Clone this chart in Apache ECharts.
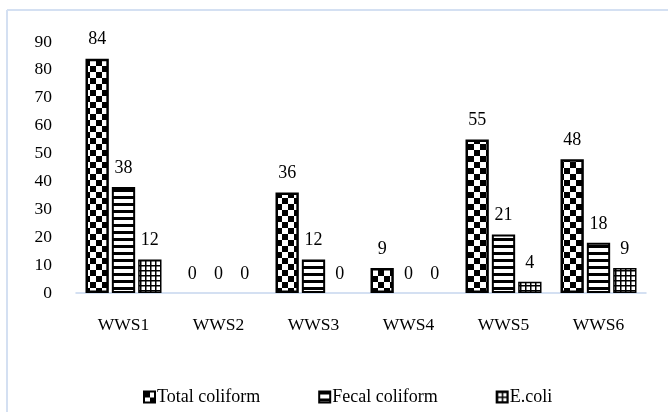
<!DOCTYPE html>
<html>
<head>
<meta charset="utf-8">
<script src="https://cdn.jsdelivr.net/npm/echarts@6/dist/echarts.min.js"></script>
<style>
html,body{margin:0;padding:0;background:#fff;}
#c{width:670px;height:412px;}
</style>
</head>
<body>
<div id="c"></div>
<script>
const categories = ['WWS1','WWS2','WWS3','WWS4','WWS5','WWS6'];
const seriesNames = ['Total coliform','Fecal coliform','E.coli'];
const totalColiform = [84, 0, 36, 9, 55, 48];
const fecalColiform = [38, 0, 12, 0, 21, 18];
const eColi = [12, 0, 0, 0, 4, 9];
const yTicks = [0,10,20,30,40,50,60,70,80,90];

function makeCanvas(w, h, draw) {
  const c = document.createElement('canvas');
  c.width = w; c.height = h;
  const ctx = c.getContext('2d');
  ctx.fillStyle = '#fff';
  ctx.fillRect(0, 0, w, h);
  ctx.fillStyle = '#000';
  draw(ctx);
  return c;
}
const checker = makeCanvas(12, 12, ctx => {
  ctx.fillRect(0, 0, 6, 6);
  ctx.fillRect(6, 6, 6, 6);
});
const stripes = makeCanvas(7, 7, ctx => {
  ctx.fillRect(0, 0, 7, 3);
});
const grid = makeCanvas(5, 5, ctx => {
  ctx.fillRect(0, 0, 5, 1.5);
  ctx.fillRect(0, 0, 1.5, 5);
});
const patterns = [checker, stripes, grid];
const dataSets = [totalColiform, fecalColiform, eColi];
const borderWidths = [2.5, 2, 1.5];

const font = '"Liberation Serif", "Times New Roman", serif';
const chart = echarts.init(document.getElementById('c'), null, {renderer: 'canvas'});

const series = seriesNames.map((name, i) => ({
  name: name,
  type: 'bar',
  data: dataSets[i].map(v => v === 0 ? {value: v, itemStyle: {borderWidth: 0}} : v),
  barGap: '13%',
  barCategoryGap: '20%',
  itemStyle: {
    color: {image: patterns[i], repeat: 'repeat'},
    borderColor: '#000',
    borderWidth: borderWidths[i]
  },
  label: {
    show: true,
    position: 'top',
    distance: 10,
    color: '#000',
    fontFamily: font,
    fontSize: 18
  }
}));

chart.setOption({
  animation: false,
  backgroundColor: '#fff',
  textStyle: {fontFamily: font},
  grid: {left: 76, right: 24, top: 42, bottom: 119, containLabel: false},
  xAxis: {
    type: 'category',
    data: categories,
    axisLine: {lineStyle: {color: '#c6d6ee', width: 1.5}},
    axisTick: {show: false},
    axisLabel: {color: '#000', fontFamily: font, fontSize: 17.5, margin: 23}
  },
  yAxis: {
    type: 'value',
    min: yTicks[0],
    max: yTicks[yTicks.length - 1],
    interval: 10,
    axisLine: {show: false},
    axisTick: {show: false},
    splitLine: {show: false},
    axisLabel: {color: '#000', fontFamily: font, fontSize: 17.5, margin: 24}
  },
  legend: {
    top: 383,
    left: 138,
    itemWidth: 11,
    itemHeight: 11,
    itemGap: 58,
    icon: 'rect',
    textStyle: {color: '#000', fontFamily: font, fontSize: 18, padding: [0,0,0,-3]},
    data: seriesNames
  },
  graphic: [
    {type: 'line', shape: {x1: 7, y1: 10, x2: 668, y2: 10}, style: {stroke: '#d4e0f2', lineWidth: 2}, silent: true},
    {type: 'line', shape: {x1: 7, y1: 10, x2: 7, y2: 412}, style: {stroke: '#d4e0f2', lineWidth: 2}, silent: true}
  ],
  series: series
});
</script>
</body>
</html>
